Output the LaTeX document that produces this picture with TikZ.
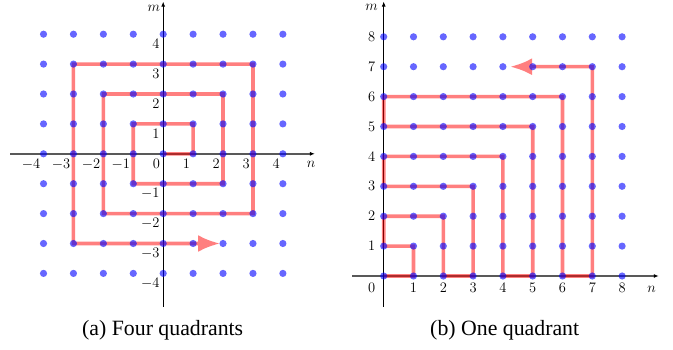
\RequirePackage{fix-cm}
\documentclass[tikz,border=0pt]{standalone}
\usepackage{fontspec}
\setmainfont{Liberation Serif}
\usetikzlibrary{arrows.meta}
\tikzset{
  xax/.style={draw=black!65, line width=1.4pt, -{Latex[length=5pt,width=4pt,color=black]}},
  yax/.style={draw=black, line width=0.9pt, -{Latex[length=5pt,width=4pt]}},
  ticklab/.style={font=\fontsize{14.5}{16}\selectfont, inner sep=0pt},
  axlab/.style={font=\fontsize{14.5}{16}\selectfont, inner sep=0pt},
  gridpt/.style={fill=blue, opacity=0.6},
  spiral/.style={draw=red, line width=3.6pt, -{Latex[length=22pt,width=17pt]}},
  caption/.style={font=\fontsize{21.8}{26}\selectfont, anchor=base, inner sep=0pt}
}
\begin{document}
\begin{tikzpicture}[x=1pt,y=1pt]
\useasboundingbox (0,0) rectangle (673,349);
% ---------- left panel ----------
\begin{scope}[shift={(163.2,195.2)}, x=29.92pt, y=29.9pt]
  \draw[xax] (-5.12,0) -- (5.07,0);
  \draw[yax] (0,-5.11) -- (0,5.09);
  \foreach \i in {-4,...,4}
    \node[ticklab, anchor=north east, xshift=-3pt, yshift=-4.7pt] (lx\i) at (\i,0) {$\i$};
  \foreach \j in {-4,-3,-2,-1,1,2,3,4}
    \node[ticklab, anchor=north east, xshift=-3.5pt, yshift=-4.7pt] (ly\j) at (0,\j) {$\j$};
  \node[axlab] (ln) at (4.94,-0.34) {$n$};
  \node[axlab] (lm) at (-0.31,4.88) {$m$};
  \begin{scope}[transparency group, opacity=0.5]
    \draw[spiral] (0,0) -| (1,1) -| (-1,-1) -| (2,2) -| (-2,-2) -| (3,3) -| (-3,-3) -- (1.90,-3);
  \end{scope}
  \foreach \i in {-4,...,4}
    \foreach \j in {-4,...,4}
      \fill[gridpt] (\i,\j) circle[radius=3.6pt];
\end{scope}
% ---------- right panel ----------
\begin{scope}[shift={(383.7,73)}, x=29.8pt, y=29.9pt]
  \draw[xax] (-1.06,0) -- (9.23,0);
  \draw[yax] (0,-1.03) -- (0,9.18);
  \node[ticklab, anchor=north east, xshift=-8.4pt, yshift=-7.3pt] (rx0) at (0,0) {$0$};
  \foreach \i in {1,...,8}
    \node[ticklab, anchor=north, yshift=-7.3pt] (rx\i) at (\i,0) {$\i$};
  \foreach \j in {1,...,8}
    \node[ticklab, anchor=east, xshift=-8.4pt] (ry\j) at (0,\j) {$\j$};
  \node[axlab] (rn) at (8.99,-0.435) {$n$};
  \node[axlab] (rm) at (-0.41,8.99) {$m$};
  \begin{scope}[transparency group, opacity=0.5]
    \draw[spiral] (0,0) -- (1,0) -- (1,1) -- (0,1) -- (0,2) -- (2,2) -- (2,0) -- (3,0)
      -- (3,3) -- (0,3) -- (0,4) -- (4,4) -- (4,0) -- (5,0) -- (5,5) -- (0,5) -- (0,6)
      -- (6,6) -- (6,0) -- (7,0) -- (7,7) -- (4.24,7);
  \end{scope}
  \foreach \i in {0,...,8}
    \foreach \j in {0,...,8}
      \fill[gridpt] (\i,\j) circle[radius=3.6pt];
\end{scope}
% ---------- captions ----------
\node[caption] (capa) at (162.7,13.3) {(a) Four quadrants};
\node[caption] (capb) at (504.7,13.3) {(b) One quadrant};
\end{tikzpicture}
\end{document}
